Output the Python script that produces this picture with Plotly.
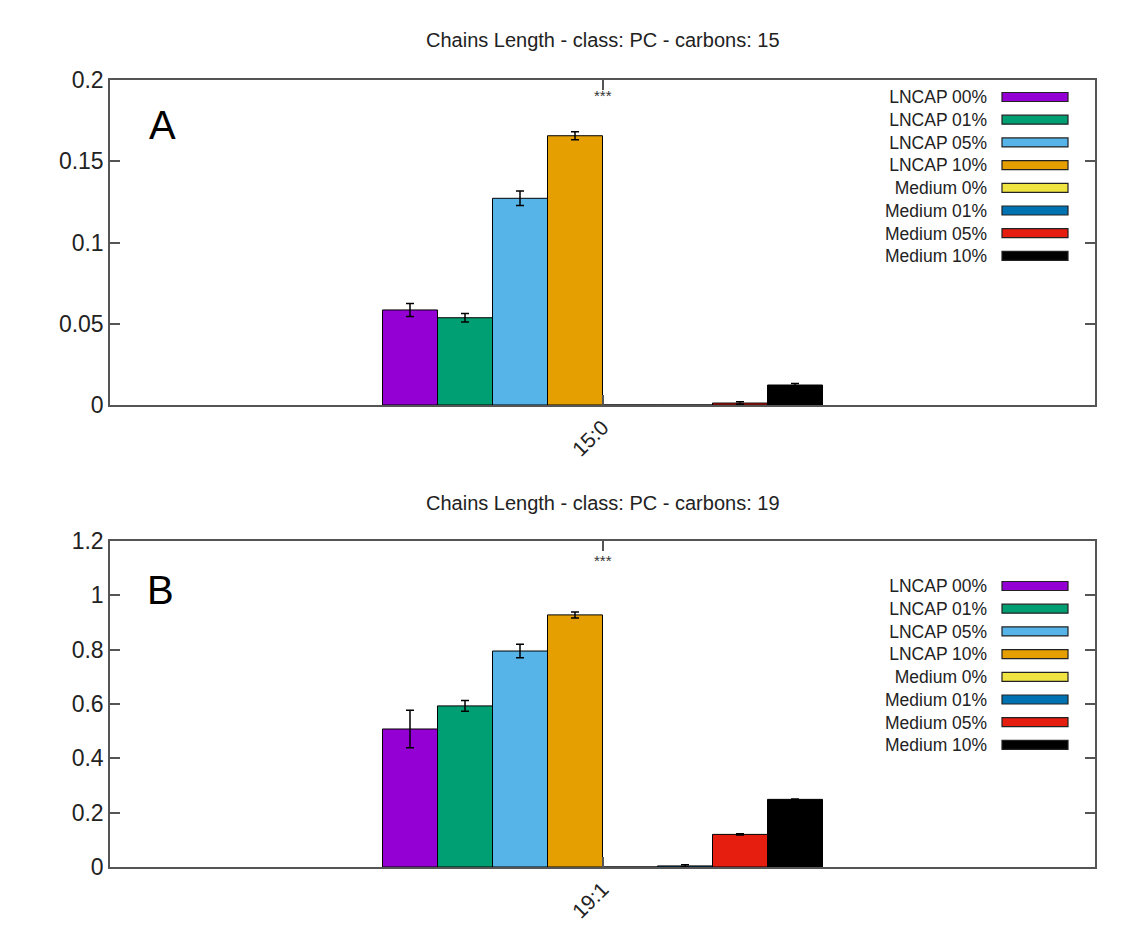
import plotly.graph_objects as go

# ---- data ----
series = ["LNCAP 00%", "LNCAP 01%", "LNCAP 05%", "LNCAP 10%",
          "Medium 0%", "Medium 01%", "Medium 05%", "Medium 10%"]
colors = ["#9400D3", "#009E73", "#56B4E9", "#E69F00",
          "#F0E442", "#0072B2", "#E51E10", "#000000"]

cat_a = "15:0"
vals_a = [0.0585, 0.0537, 0.1272, 0.1657, 0.0, 0.0, 0.0012, 0.0123]
errs_a = [0.0040, 0.0026, 0.0045, 0.0025, 0.0, 0.0, 0.0008, 0.0010]

cat_b = "19:1"
vals_b = [0.508, 0.593, 0.795, 0.928, 0.0, 0.004, 0.120, 0.249]
errs_b = [0.069, 0.020, 0.025, 0.011, 0.0, 0.004, 0.002, 0.001]

title_a = "Chains Length - class: PC - carbons: 15"
title_b = "Chains Length - class: PC - carbons: 19"
yticks_a = [0, 0.05, 0.1, 0.15, 0.2]
yticks_b = [0, 0.2, 0.4, 0.6, 0.8, 1, 1.2]

# ---- layout helpers (pixel -> paper) ----
W, H = 1129, 925
ML, MR, MT, MB = 110, 34, 80, 58
PW, PH = W - ML - MR, H - MT - MB


def px(x):
    return (x - ML) / PW


def py(y):
    return (H - MB - y) / PH


fig = go.Figure()
for i, name in enumerate(series):
    fig.add_trace(go.Bar(
        x=[cat_a], y=[vals_a[i]], name=name, xaxis="x", yaxis="y",
        marker=dict(color=colors[i], line=dict(color="black", width=1)),
        error_y=dict(type="data", array=[errs_a[i]], color="black",
                     thickness=1.5, width=4, visible=errs_a[i] > 0),
        showlegend=False))
for i, name in enumerate(series):
    fig.add_trace(go.Bar(
        x=[cat_b], y=[vals_b[i]], name=name, xaxis="x2", yaxis="y2",
        marker=dict(color=colors[i], line=dict(color="black", width=1)),
        error_y=dict(type="data", array=[errs_b[i]], color="black",
                     thickness=1.5, width=4, visible=errs_b[i] > 0),
        showlegend=False))

axis_common = dict(showline=True, linecolor="#555555", linewidth=1.5,
                   mirror="ticks", ticks="inside", tickcolor="#555555",
                   ticklen=10, tickwidth=1.5, showgrid=False, zeroline=False,
                   automargin=False)
yfont = dict(family="Liberation Sans", size=23, color="#222222")
xfont = dict(family="Liberation Sans", size=21, color="#222222")

top_a, bot_a = py(80), py(405)
top_b, bot_b = py(541), py(867)

fig.update_layout(
    width=W, height=H,
    margin=dict(l=ML, r=MR, t=MT, b=MB, autoexpand=False),
    paper_bgcolor="white", plot_bgcolor="white",
    barmode="group", bargap=0.1066, bargroupgap=0,
    xaxis=dict(domain=[0, 1], anchor="y", type="category", range=[-1, 1],
               tickangle=-45, tickfont=xfont, **axis_common),
    yaxis=dict(domain=[bot_a, top_a], anchor="x", range=[0, 0.2],
               tickvals=yticks_a, ticktext=[f"{v:g}" for v in yticks_a],
               tickfont=yfont, **axis_common),
    xaxis2=dict(domain=[0, 1], anchor="y2", type="category", range=[-1, 1],
                tickangle=-45, tickfont=xfont, **axis_common),
    yaxis2=dict(domain=[bot_b, top_b], anchor="x2", range=[0, 1.2],
                tickvals=yticks_b, ticktext=[f"{v:g}" for v in yticks_b],
                tickfont=yfont, **axis_common),
)

ann = []
shapes = []
font_title = dict(family="Liberation Sans", size=20, color="#222222")
ann.append(dict(text=title_a, x=px(603), y=py(40), xref="paper", yref="paper",
                showarrow=False, xanchor="center", yanchor="middle", font=font_title))
ann.append(dict(text=title_b, x=px(603), y=py(503), xref="paper", yref="paper",
                showarrow=False, xanchor="center", yanchor="middle", font=font_title))
# panel letters
ann.append(dict(text="A", x=px(162), y=py(125), xref="paper", yref="paper",
                showarrow=False, xanchor="center", yanchor="middle",
                font=dict(family="Liberation Sans", size=40, color="black")))
ann.append(dict(text="B", x=px(160), y=py(590), xref="paper", yref="paper",
                showarrow=False, xanchor="center", yanchor="middle",
                font=dict(family="Liberation Sans", size=40, color="black")))
# significance marks
ann.append(dict(text="***", x=cat_a, y=py(96), xref="x", yref="paper",
                showarrow=False, xanchor="center", yanchor="middle",
                font=dict(family="Liberation Sans", size=15, color="#333333")))
ann.append(dict(text="***", x=cat_b, y=py(560), xref="x2", yref="paper",
                showarrow=False, xanchor="center", yanchor="middle",
                font=dict(family="Liberation Sans", size=15, color="#333333")))

# custom legends (text left, swatch right) as in gnuplot
LEG_STEP = 22.7
leg_font = dict(family="Liberation Sans", size=17.5, color="#222222")
for first_y in (97, 586):
    mid_y = first_y + LEG_STEP * (len(series) - 1) / 2
    ann.append(dict(text="<br>".join(series), x=px(989), y=py(mid_y),
                    xref="paper", yref="paper", showarrow=False,
                    xanchor="right", yanchor="middle", align="right", font=leg_font))
    for i, name in enumerate(series):
        yy = first_y + i * LEG_STEP
        shapes.append(dict(type="rect", xref="paper", yref="paper",
                           x0=px(1002), x1=px(1068), y0=py(yy - 4.5), y1=py(yy + 4.5),
                           fillcolor=colors[i], line=dict(color="#222222", width=1.2)))

fig.update_layout(annotations=ann, shapes=shapes)
fig.write_html("out.html")
